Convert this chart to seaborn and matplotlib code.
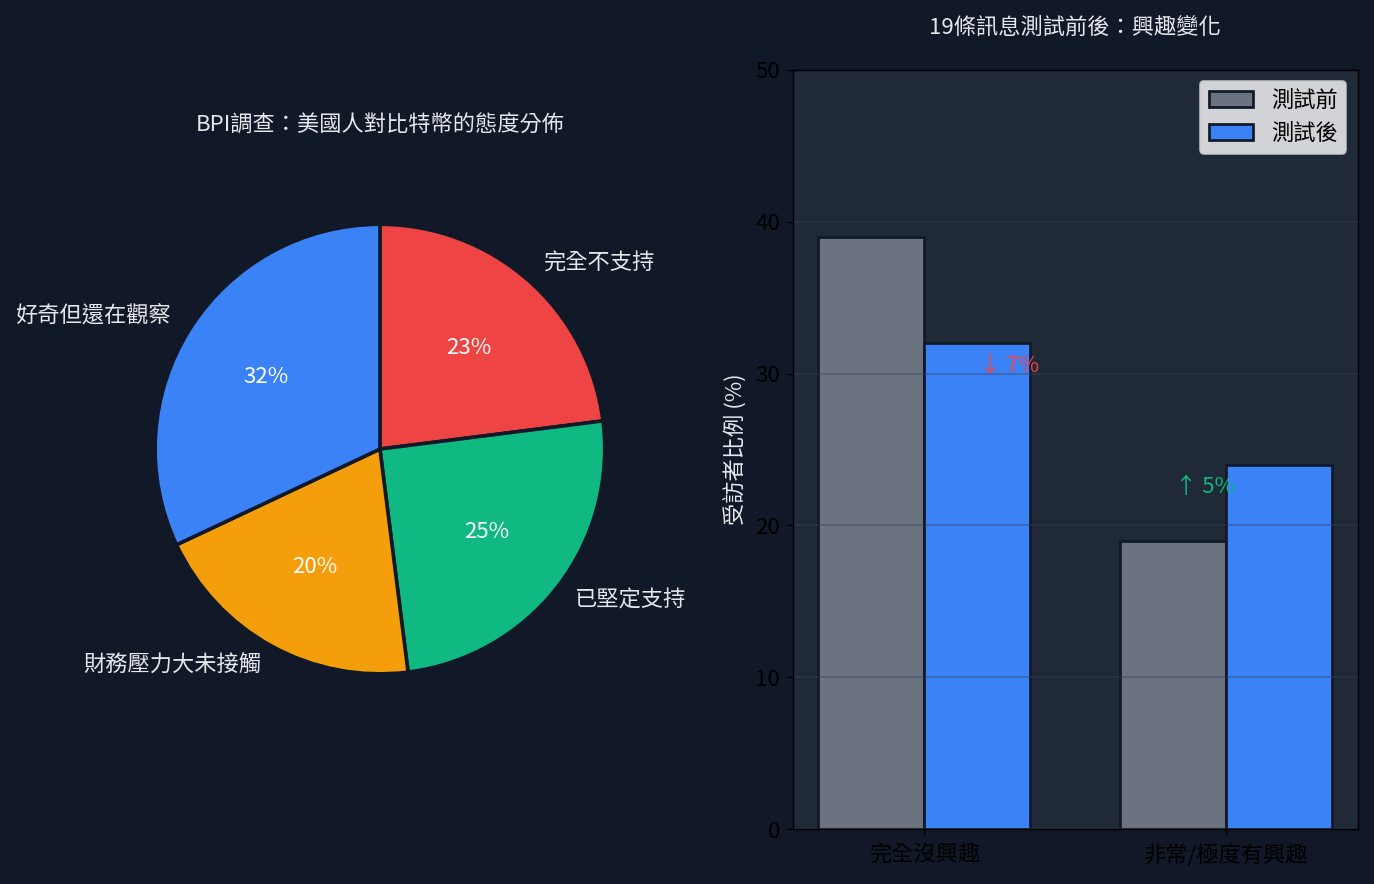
import pandas as pd
import numpy as np
import matplotlib
matplotlib.use("Agg")
import matplotlib.pyplot as plt
import seaborn as sns

plt.rcParams['font.family'] = ['Noto Sans CJK TC', 'DejaVu Sans']

# pie data (clockwise from top)
pie_labels = ["完全不支持", "已堅定支持", "財務壓力大未接觸", "好奇但還在觀察"]
pie_values = [23, 25, 20, 32]
pie_colors = ["#ef4444", "#10b981", "#f59e0b", "#3b82f6"]

# bar data
categories = ["完全沒興趣", "非常/極度有興趣"]
before = [39, 19]
after = [32, 24]
phases = ["測試前", "測試後"]
change_text = ["↓ 7%", "↑ 5%"]
change_colors = ["#ef4444", "#10b981"]
change_dx = [0.28, -0.07]

bg = "#111827"
panel = "#1f2937"
txt = "#e5e7eb"
fs = 12.3

fig = plt.figure(figsize=(1374 / 130, 884 / 130), dpi=130, facecolor=bg)

# pie
ax1 = fig.add_axes([0.072, 0.174, 0.409, 0.636])
ax1.set_facecolor(bg)
wedges, texts, autotexts = ax1.pie(
    pie_values, labels=pie_labels, colors=pie_colors, autopct="%1.0f%%",
    startangle=90, counterclock=False,
    wedgeprops=dict(edgecolor=bg, linewidth=2),
    textprops=dict(color=txt, fontsize=fs))
for t in autotexts:
    t.set_color("white")
    t.set_fontsize(fs)
ax1.set_title("BPI調查：美國人對比特幣的態度分佈", color=txt, fontsize=fs, pad=20)

# bars
df = pd.DataFrame({
    "cat": categories * 2,
    "val": before + after,
    "phase": [phases[0]] * 2 + [phases[1]] * 2,
})

ax2 = fig.add_axes([0.577, 0.062, 0.411, 0.859])
ax2.set_facecolor(panel)
sns.barplot(data=df, x="cat", y="val", hue="phase", palette=["#6b7280", "#3b82f6"],
            saturation=1, width=0.7, edgecolor=bg, linewidth=1.5, ax=ax2)
ax2.set_autoscalex_on(True)
ax2.autoscale_view(scaley=False)
ax2.set_ylim(0, 50)
ax2.set_yticks(range(0, 51, 10))
ax2.tick_params(labelsize=fs, colors="black")
ax2.tick_params(axis="x", pad=5)
ax2.set_xlabel("")
ax2.set_ylabel("受訪者比例 (%)", color=txt, fontsize=fs)
ax2.set_title("19條訊息測試前後：興趣變化", color=txt, fontsize=fs, pad=20)
ax2.yaxis.grid(True, color="#374151", alpha=0.4, linewidth=1)
ax2.xaxis.grid(False)
for s in ax2.spines.values():
    s.set_color("black")

for i in range(len(categories)):
    ax2.text(i + change_dx[i], after[i] - 1.5, change_text[i], color=change_colors[i],
             fontsize=fs, ha="center", va="center")

ax2.legend(title=None, loc="upper right", fontsize=fs)

plt.savefig("out.png", dpi=130, facecolor=bg)
